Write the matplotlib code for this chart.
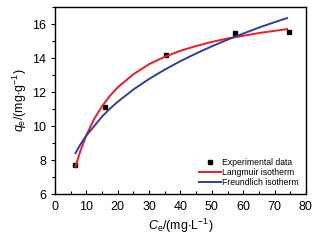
import matplotlib
matplotlib.use('Agg')
import matplotlib.pyplot as plt
from matplotlib.ticker import MultipleLocator

plt.rcParams['font.family'] = ['Liberation Sans', 'DejaVu Sans']
plt.rcParams['mathtext.fontset'] = 'custom'
plt.rcParams['mathtext.it'] = 'Liberation Sans:italic'
plt.rcParams['mathtext.rm'] = 'Liberation Sans'

# experimental points
ce_exp = [6.5, 16.0, 35.5, 57.5, 74.5]
qe_exp = [7.7, 11.1, 14.2, 15.5, 15.55]

# fitted curves
ce_fit = [6.5, 8, 10, 12.5, 15, 17.5, 20, 25, 30, 35, 40, 45, 50, 55, 60, 65, 70, 74]
qe_langmuir = [7.6, 8.5, 9.47, 10.43, 11.17, 11.78, 12.28, 13.05, 13.64, 14.08,
               14.43, 14.71, 14.95, 15.15, 15.31, 15.47, 15.6, 15.7]
qe_freundlich = [8.4, 8.89, 9.45, 10.0, 10.56, 11.02, 11.43, 12.15, 12.77, 13.32,
                 13.82, 14.27, 14.69, 15.08, 15.44, 15.79, 16.11, 16.35]

fig = plt.figure(figsize=(3.22, 2.43), dpi=100)
ax = fig.add_axes([0.171, 0.2016, 0.779, 0.7694])

ax.plot(ce_exp, qe_exp, 's', color='black', markersize=3, label='Experimental data')
ax.plot(ce_fit, qe_langmuir, color='#ee1c24', lw=1.4, label='Langmuir isotherm')
ax.plot(ce_fit, qe_freundlich, color='#2e3f9e', lw=1.4, label='Freundlich isotherm')

ax.set_xlim(0, 80)
ax.set_ylim(6, 17)
ax.xaxis.set_major_locator(MultipleLocator(10))
ax.xaxis.set_minor_locator(MultipleLocator(5))
ax.yaxis.set_major_locator(MultipleLocator(2))
ax.yaxis.set_minor_locator(MultipleLocator(1))
ax.tick_params(axis='x', which='both', direction='in', top=False, labelsize=9, pad=5)
ax.tick_params(axis='y', which='both', direction='out', right=False, labelsize=9)
ax.tick_params(which='major', length=3, width=0.8)
ax.tick_params(which='minor', length=2, width=0.8)
for s in ax.spines.values():
    s.set_linewidth(1.0)

ax.set_xlabel(r'$C_\mathrm{e}$/(mg$\cdot$L$^{-1}$)', fontsize=9, labelpad=3)
ax.set_ylabel(r'$q_\mathrm{e}$/(mg$\cdot$g$^{-1}$)', fontsize=9, labelpad=2)

ax.legend(loc='lower right', frameon=False, fontsize=6.2, handlelength=2.6,
          handletextpad=0.1, labelspacing=0.15, borderaxespad=0.4)

fig.savefig('out.png', dpi=100)
